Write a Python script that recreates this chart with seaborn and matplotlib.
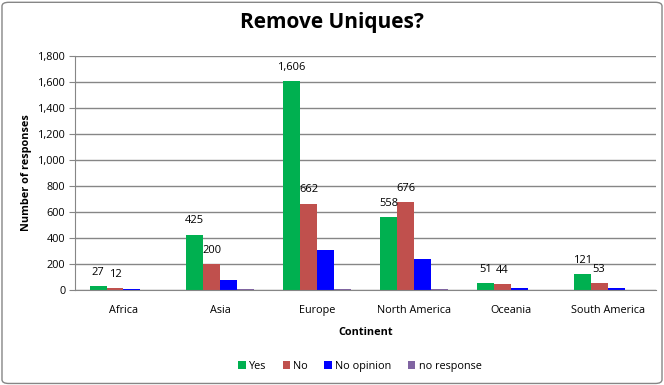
import matplotlib
matplotlib.use("Agg")
import matplotlib.pyplot as plt
import seaborn as sns
import pandas as pd
from matplotlib.ticker import FuncFormatter
from matplotlib.patches import FancyBboxPatch

continents = ["Africa", "Asia", "Europe", "North America", "Oceania", "South America"]
series = ["Yes", "No", "No opinion", "no response"]
yes = [27, 425, 1606, 558, 51, 121]
no = [12, 200, 662, 676, 44, 53]
no_opinion = [6, 78, 308, 238, 15, 15]
no_response = [2, 7, 8, 6, 1, 1]
colors = ["#00B050", "#C0504D", "#0000FF", "#8064A2"]

rows = []
for s, vals in zip(series, [yes, no, no_opinion, no_response]):
    for c, v in zip(continents, vals):
        rows.append({"Continent": c, "Series": s, "Value": v})
df = pd.DataFrame(rows)

sns.set_style("white")
plt.rcParams["font.family"] = ["Open Sans", "DejaVu Sans"]
plt.rcParams["text.color"] = "black"
plt.rcParams["axes.labelcolor"] = "black"
plt.rcParams["xtick.color"] = "black"
plt.rcParams["ytick.color"] = "black"

fig = plt.figure(figsize=(6.64, 3.85), dpi=100)
ax = fig.add_axes([0.113, 0.247, 0.875, 0.608])
sns.barplot(data=df, x="Continent", y="Value", hue="Series", hue_order=series,
            palette=colors, order=continents, width=0.7, saturation=1,
            linewidth=0, ax=ax, legend=True)

ax.set_ylim(0, 1800)
ax.set_yticks(range(0, 1801, 200))
ax.yaxis.set_major_formatter(FuncFormatter(lambda v, p: f"{int(v):,}"))
ax.grid(axis="y", color="#868686", linewidth=1)
ax.set_axisbelow(True)
for sp in ["top", "right"]:
    ax.spines[sp].set_visible(False)
ax.spines["left"].set_color("#868686")
ax.spines["bottom"].set_color("#868686")
ax.tick_params(axis="y", labelsize=7.8, length=4, color="#868686", left=True, pad=3)
ax.tick_params(axis="x", labelsize=7.8, length=0, pad=11)
ax.set_ylabel("Number of responses", fontsize=7.8, fontweight="bold")
ax.set_xlabel("Continent", fontsize=7.8, fontweight="bold", labelpad=8)

for cont in ax.containers[:2]:
    ax.bar_label(cont, labels=[f"{int(b.get_height()):,}" for b in cont],
                 fontsize=8, padding=6)

handles, labels = ax.get_legend_handles_labels()
ax.legend(handles, labels, loc="upper center", bbox_to_anchor=(0.49, -0.26),
          ncol=4, frameon=False, fontsize=7.8, handlelength=0.7, handleheight=0.7,
          handletextpad=0.3, columnspacing=1.5)

fig.suptitle("Remove Uniques?", fontsize=15, fontweight="bold", y=0.97)

border = FancyBboxPatch((0.003, 0.004), 0.994, 0.99, boxstyle="round,pad=0,rounding_size=0.01",
                        transform=fig.transFigure, fill=False, edgecolor="#868686", linewidth=1)
fig.patches.append(border)

fig.savefig("out.png", dpi=100)
